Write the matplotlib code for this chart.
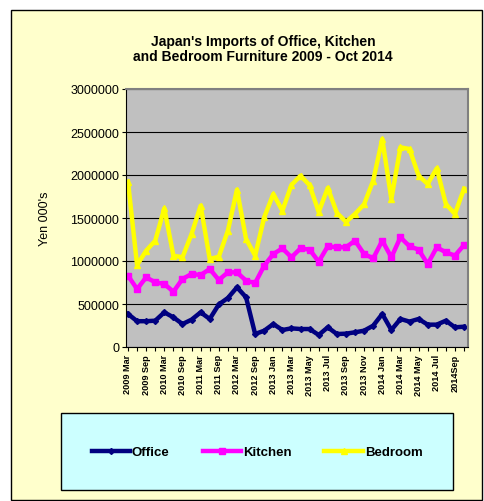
import matplotlib.pyplot as plt
from matplotlib.patches import Rectangle

# Category labels (quarterly to 2012, then monthly from 2013 Jan); blanks are unlabelled points
labels = ["2009 Mar", "", "2009 Sep", "", "2010 Mar", "", "2010 Sep", "",
          "2011 Mar", "", "2011 Sep", "", "2012 Mar", "", "2012 Sep", "",
          "2013 Jan", "", "2013 Mar", "", "2013 May", "", "2013 Jul", "",
          "2013 Sep", "", "2013 Nov", "", "2014 Jan", "", "2014 Mar", "",
          "2014 May", "", "2014 Jul", "", "2014Sep", ""]

office = [384000, 300000, 300000, 306000, 403000, 345000, 267000, 318000,
          403000, 326000, 495000, 570000, 694000, 578000, 151000, 190000,
          267000, 198000, 217000, 209000, 209000, 140000, 229000, 151000,
          155000, 171000, 190000, 248000, 384000, 198000, 326000, 295000,
          326000, 260000, 260000, 306000, 229000, 236000]

kitchen = [829000, 674000, 810000, 752000, 733000, 643000, 791000, 849000,
           837000, 907000, 780000, 868000, 868000, 771000, 744000, 946000,
           1081000, 1147000, 1043000, 1147000, 1132000, 992000, 1171000, 1159000,
           1160000, 1236000, 1081000, 1031000, 1236000, 1043000, 1275000, 1171000,
           1132000, 965000, 1159000, 1101000, 1062000, 1186000]

bedroom = [1922000, 953000, 1120000, 1236000, 1612000, 1062000, 1043000, 1314000,
           1643000, 1023000, 1050000, 1353000, 1829000, 1256000, 1062000, 1508000,
           1779000, 1585000, 1884000, 1992000, 1880000, 1570000, 1850000, 1560000,
           1455000, 1547000, 1660000, 1934000, 2419000, 1721000, 2322000, 2302000,
           1992000, 1895000, 2078000, 1663000, 1547000, 1840000]

x = list(range(len(labels)))

fig = plt.figure(figsize=(4.85, 5.02), dpi=100, facecolor="white")

# yellow chart area with black border
fig.patches.append(Rectangle((11 / 485, 1 / 502), 471 / 485, 490 / 502,
                             transform=fig.transFigure, facecolor="#FFFFCC",
                             edgecolor="black", linewidth=1, zorder=0))

ax = fig.add_axes([126 / 485, 1 - 348 / 502, 342 / 485, 258 / 502])
ax.set_zorder(3)
ax.set_facecolor("#C0C0C0")

ax.plot(x, office, color="#000080", lw=3.2, marker="D", ms=3, label="Office")
ax.plot(x, kitchen, color="#FF00FF", lw=3.2, marker="s", ms=5, label="Kitchen")
ax.plot(x, bedroom, color="#FFFF00", lw=3.2, marker="^", ms=5, label="Bedroom")

ax.set_xlim(-0.22, 37.44)
ax.set_ylim(0, 3000000)
ax.set_yticks(range(0, 3000001, 500000))
ax.set_yticklabels([str(v) for v in range(0, 3000001, 500000)],
                   fontsize=9, family="Liberation Sans")
ax.set_xticks(x)
ax.set_xticklabels(labels, rotation=90, fontsize=6.6, fontweight="bold",
                   family="Liberation Sans")
ax.tick_params(axis="x", length=3, pad=2)
ax.tick_params(axis="y", length=3, pad=2)
ax.yaxis.grid(True, color="black", lw=0.8)
ax.set_axisbelow(True)
for s in ["top", "right"]:
    ax.spines[s].set_color("#808080")
    ax.spines[s].set_linewidth(1.5)

ax.set_ylabel("Yen 000's", fontsize=9, family="Liberation Sans", labelpad=14)

fig.text(263 / 485, 1 - 42 / 502, "Japan's Imports of Office, Kitchen",
         ha="center", va="center", fontsize=10, fontweight="bold",
         family="Liberation Sans")
fig.text(263 / 485, 1 - 57 / 502, "and Bedroom Furniture 2009 - Oct 2014",
         ha="center", va="center", fontsize=10, fontweight="bold",
         family="Liberation Sans")

# legend box
fig.patches.append(Rectangle((61 / 485, 1 - 491 / 502), 392 / 485, 77 / 502,
                             transform=fig.transFigure, facecolor="#CCFFFF",
                             edgecolor="black", linewidth=1, zorder=1))
leg = fig.legend(loc="center", bbox_to_anchor=(257 / 485, 1 - 453 / 502), ncol=3,
                 frameon=False, handlelength=2.9, handletextpad=0.15,
                 columnspacing=2.5, prop={"family": "Liberation Sans",
                                          "weight": "bold", "size": 9.5})
leg.set_zorder(4)

fig.savefig("out.png", dpi=100, facecolor="white")
